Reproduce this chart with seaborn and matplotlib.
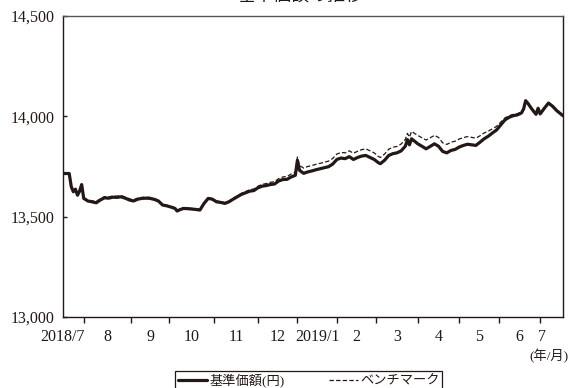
import numpy as np
import pandas as pd
import seaborn as sns
import matplotlib
matplotlib.use('Agg')
import matplotlib.pyplot as plt
from matplotlib.ticker import FixedLocator, NullFormatter, FuncFormatter
from matplotlib.lines import Line2D

################################################################################
# data (x = trading day counted from the first day shown)

day = [0, 3, 4, 5, 6, 7, 8, 9, 10, 12, 14, 16, 18, 20, 22, 24, 26, 28, 30, 32,
       34, 36, 38, 40, 42, 44, 46, 48, 50, 52, 54, 55, 56, 58, 60, 62, 64, 66, 68, 70,
       72, 74, 76, 78, 80, 82, 84, 86, 88, 90, 92, 94, 96, 98, 100, 102, 104, 106, 108, 110,
       112, 113, 114, 116, 118, 120, 122, 124, 126, 128, 130, 132, 134, 136, 138, 140, 142, 144, 146, 148,
       150, 152, 153, 155, 157, 159, 161, 163, 165, 166, 167, 168, 169, 171, 173, 175, 177, 179, 181, 183,
       185, 187, 189, 191, 193, 195, 197, 199, 201, 203, 205, 207, 209, 211, 213, 215, 217, 219, 221, 222,
       223, 224, 226, 228, 229, 230, 232, 234, 236, 238, 241]

nav = [13715, 13715, 13649, 13624, 13637, 13607, 13627, 13660, 13591, 13578, 13574, 13569, 13583, 13594, 13592, 13597, 13596, 13599, 13592, 13583,
       13578, 13587, 13591, 13592, 13591, 13586, 13578, 13558, 13554, 13548, 13541, 13528, 13533, 13541, 13540, 13538, 13536, 13533, 13566, 13591,
       13587, 13574, 13571, 13566, 13574, 13587, 13599, 13611, 13619, 13627, 13630, 13644, 13652, 13655, 13660, 13663, 13678, 13685, 13686, 13698,
       13706, 13781, 13731, 13716, 13723, 13728, 13734, 13739, 13744, 13749, 13762, 13785, 13792, 13789, 13799, 13785, 13795, 13802, 13805, 13795,
       13785, 13769, 13764, 13781, 13805, 13814, 13818, 13828, 13851, 13884, 13858, 13888, 13880, 13863, 13851, 13838, 13850, 13863, 13851, 13825,
       13818, 13830, 13835, 13847, 13855, 13861, 13858, 13855, 13871, 13888, 13901, 13917, 13932, 13957, 13982, 13995, 14003, 14007, 14017, 14036,
       14078, 14066, 14036, 14010, 14040, 14012, 14040, 14066, 14050, 14028, 14003]

bench = [13716, 13716, 13650, 13626, 13639, 13610, 13630, 13662, 13594, 13582, 13579, 13575, 13589, 13600, 13598, 13603, 13602, 13605, 13598, 13589,
         13584, 13592, 13596, 13597, 13596, 13590, 13582, 13561, 13557, 13551, 13544, 13531, 13536, 13544, 13543, 13541, 13539, 13536, 13569, 13594,
         13590, 13578, 13575, 13570, 13578, 13591, 13604, 13616, 13625, 13634, 13638, 13652, 13661, 13665, 13671, 13675, 13690, 13698, 13700, 13713,
         13722, 13797, 13755, 13742, 13750, 13755, 13761, 13766, 13771, 13777, 13790, 13812, 13820, 13818, 13828, 13816, 13826, 13834, 13838, 13828,
         13818, 13800, 13795, 13812, 13836, 13846, 13850, 13862, 13885, 13915, 13896, 13925, 13918, 13905, 13893, 13882, 13893, 13905, 13895, 13868,
         13860, 13871, 13876, 13887, 13894, 13899, 13895, 13891, 13903, 13917, 13926, 13938, 13950, 13971, 13992, 14003, 14010, 14013, 14022, 14040,
         14081, 14069, 14039, 14013, 14042, 14015, 14043, 14069, 14053, 14031, 14005]

month_start = [10, 33, 51, 73, 94, 113, 132, 151, 171, 191, 210, 230]
month_labels = ['2018/7', '8', '9', '10', '11', '12', '2019/1', '2', '3', '4', '5', '6', '7']
yticks = [13000, 13500, 14000, 14500]

series_names = ['基準価額(円)', 'ベンチマーク']

################################################################################

df = pd.DataFrame({'day': day, 'nav': nav, 'bench': bench})

sns.set_theme(style='ticks')
plt.rcParams['font.family'] = ['Liberation Serif', 'Noto Sans CJK JP']
ink = '#231815'

fig = plt.figure(figsize=(5.7, 3.88), dpi=100)
ax = fig.add_axes([0.1105, 0.183, 0.8772, 0.7758])

sns.lineplot(data=df, x='day', y='bench', ax=ax, color=ink, linewidth=0.9,
             linestyle=(0, (3.5, 1.8)), zorder=2)
sns.lineplot(data=df, x='day', y='nav', ax=ax, color=ink, linewidth=2.3, zorder=3)

ax.set_xlim(0, 241)
ax.set_ylim(13000, 14500)
ax.set_xlabel('')
ax.set_ylabel('')

# month boundaries as ticks, month names in between
edges = [0] + month_start + [232]
label_pos = [(a + b) / 2 for a, b in zip(edges[:-1], edges[1:])]
label_pos[0] = 0
label_pos[-1] = 230.8
ax.xaxis.set_major_locator(FixedLocator(month_start))
ax.xaxis.set_major_formatter(NullFormatter())
ax.xaxis.set_minor_locator(FixedLocator(label_pos))
ax.set_xticks(label_pos, month_labels, minor=True)
ax.tick_params(axis='x', which='major', direction='out', length=4.5, width=1, color=ink)
ax.tick_params(axis='x', which='minor', length=0, pad=9, labelsize=11.5, labelcolor=ink)

ax.set_yticks(yticks)
ax.yaxis.set_major_formatter(FuncFormatter(lambda v, p: f'{v:,.0f}'))
ax.tick_params(axis='y', direction='in', length=3, width=1, color=ink, pad=6,
               labelsize=11.5, labelcolor=ink)

for s in ax.spines.values():
    s.set_visible(True)
    s.set_color(ink)
    s.set_linewidth(1.0)
ax.spines['top'].set_color('#555555')

fig.text(0.9965, 0.083, '(年/月)', ha='right', va='center', fontsize=9.5, color=ink)

fig.text(0.527, 1.012, '基準価額の推移', ha='center', va='center', fontsize=13,
         color=ink, family=['Noto Sans CJK JP'])

handles = [Line2D([], [], color=ink, linewidth=2.3),
           Line2D([], [], color=ink, linewidth=0.9, linestyle=(0, (3.5, 1.8)))]
leg = fig.legend(handles, series_names, loc='upper center', bbox_to_anchor=(0.542, 0.0438),
                 ncol=2, fontsize=9.5, frameon=True, fancybox=False, framealpha=1,
                 edgecolor=ink, handlelength=2.2, handletextpad=0.15, columnspacing=3.4,
                 borderpad=0.2, borderaxespad=0)
leg.get_frame().set_linewidth(0.9)
for t in leg.get_texts():
    t.set_color(ink)

fig.savefig('out.png', dpi=100)
